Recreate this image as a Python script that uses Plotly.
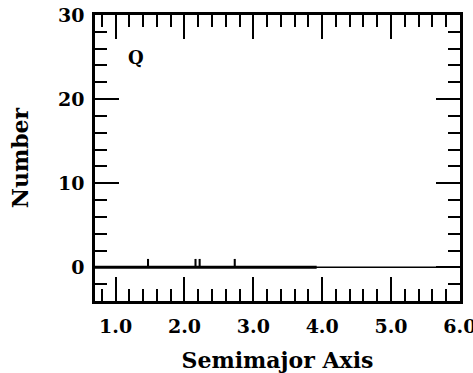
import plotly.graph_objects as go

# Data (histogram of semimajor axis, panel "Q")
semimajor = [1.47, 2.16, 2.22, 2.73]
counts = [1, 1, 1, 1]
hist_span = [0.7, 3.92]
x_range = [0.7, 6.0]
y_range = [-4, 30]
panel_label = "Q"

FONT = "DejaVu Serif"
xr = [x_range[0], x_range[1] + 0.002]
fig = go.Figure()
fig.add_trace(go.Scatter(x=x_range, y=[0, 0], mode="lines",
                         line=dict(color="black", width=1.5), hoverinfo="skip"))
fig.add_trace(go.Scatter(x=hist_span, y=[0, 0], mode="lines",
                         line=dict(color="black", width=3), hoverinfo="skip"))
fig.add_trace(go.Bar(x=semimajor, y=counts, width=0.03,
                     marker=dict(color="black", line=dict(width=0))))
# invisible trace for mirrored axes
fig.add_trace(go.Scatter(x=x_range, y=y_range, mode="markers", xaxis="x2", yaxis="y2",
                         marker=dict(opacity=0), hoverinfo="skip"))

common = dict(showgrid=False, zeroline=False, ticks="inside", tickwidth=2,
              tickcolor="black", showline=True, linecolor="black", linewidth=2.5)

fig.update_layout(
    width=473, height=373,
    margin=dict(l=95, r=13, t=15, b=72, autoexpand=False),
    paper_bgcolor="white", plot_bgcolor="white",
    showlegend=False,
    xaxis=dict(range=xr, tickmode="linear", tick0=0, dtick=1, tickformat=".1f",
               ticklen=24, minor=dict(ticks="inside", tick0=0, dtick=0.2, ticklen=12,
                                      tickwidth=2, tickcolor="black"),
               tickfont=dict(family=FONT, size=19, color="black", weight="bold"),
               ticklabelstandoff=6, automargin=False, ticklabeloverflow="allow",
               title=dict(text="Semimajor Axis", standoff=22,
                          font=dict(family=FONT, size=22, color="black", weight="bold")),
               **common),
    yaxis=dict(range=y_range, tickmode="linear", tick0=0, dtick=10,
               ticklen=24, minor=dict(ticks="inside", tick0=0, dtick=2, ticklen=12,
                                      tickwidth=2, tickcolor="black"),
               tickfont=dict(family=FONT, size=19, color="black", weight="bold"),
               ticklabelstandoff=4, automargin=False,
               title=dict(text="Number", standoff=24,
                          font=dict(family=FONT, size=22, color="black", weight="bold")),
               **common),
    xaxis2=dict(range=xr, overlaying="x", side="top", anchor="y2",
                tickmode="linear", tick0=0, dtick=1, ticklen=24, showticklabels=False,
                minor=dict(ticks="inside", tick0=0, dtick=0.2, ticklen=12,
                           tickwidth=2, tickcolor="black"), **common),
    yaxis2=dict(range=y_range, overlaying="y", side="right", anchor="x2",
                tickmode="linear", tick0=0, dtick=10, ticklen=24, showticklabels=False,
                minor=dict(ticks="inside", tick0=0, dtick=2, ticklen=12,
                           tickwidth=2, tickcolor="black"), **common),
    annotations=[dict(text=panel_label, x=1.29, y=25.0, xref="x", yref="y",
                      showarrow=False,
                      font=dict(family=FONT, size=18, color="black", weight="bold"))],
)

fig.write_html("out.html")
